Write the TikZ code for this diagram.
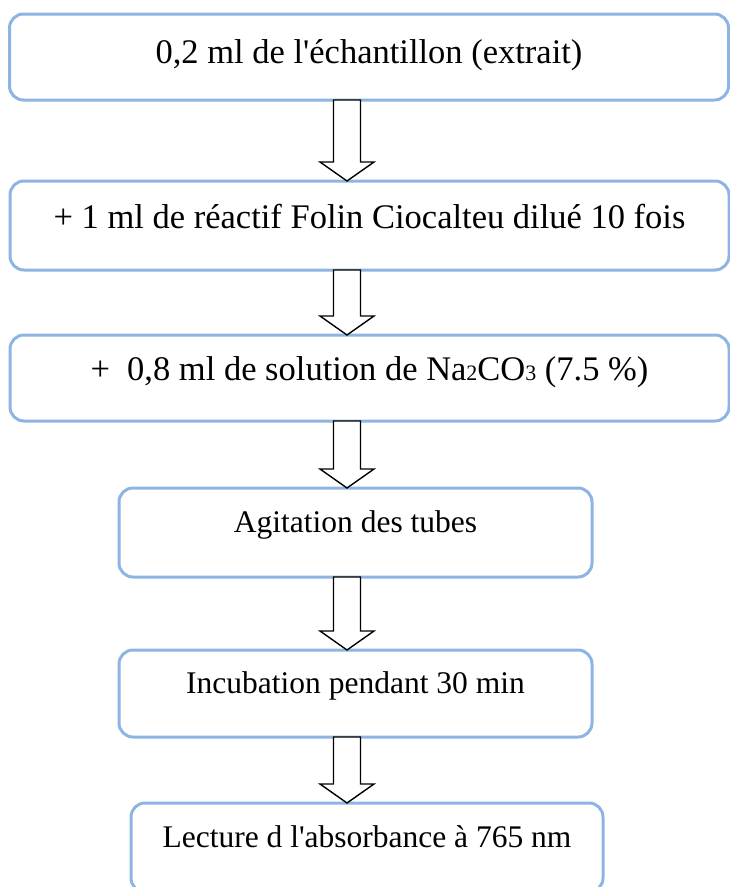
\documentclass[tikz,border=0pt]{standalone}
\usepackage{fontspec}
\setmainfont{Liberation Serif}
\usepackage{tikz}
\usetikzlibrary{calc}

\definecolor{boxblue}{RGB}{141,180,226}

% block arrow from the bottom of one box to the top of the next
\newcommand{\flecheblock}[2]{%
  \draw[fleche] ($(ax |- #1.south)+(-13.5,0)$) -- ($(ax |- #2.north)+(-13.5,-19)$)
    -- ($(ax |- #2.north)+(-27,-19)$) -- (ax |- #2.north)
    -- ($(ax |- #2.north)+(27,-19)$) -- ($(ax |- #2.north)+(13.5,-19)$)
    -- ($(ax |- #1.south)+(13.5,0)$) -- cycle;}

\begin{document}
\begin{tikzpicture}[x=1pt, y=-1pt,
    main/.style = {draw=boxblue, line width=3pt, rounded corners=14pt, anchor=north,
                   inner sep=0pt, outer sep=0pt, font=\fontsize{31.5}{38}\selectfont},
    big/.style = {font=\fontsize{34.5}{41}\selectfont},
    fleche/.style = {draw=black, fill=white, line width=1.4pt, line join=miter}]

    \useasboundingbox (0,0) rectangle (730,887);

    \node [main, big, minimum width=719, text height=49, text depth=37] (0) at (369,14) {0,2 ml de l\textquotesingle échantillon (extrait)};
    \node [main, big, minimum width=719, text height=47, text depth=42] (1) at (369.5,181) {+ 1 ml de réactif Folin Ciocalteu dilué 10 fois};
    \node [main, big, minimum width=719, text height=45, text depth=41] (2) at (369.5,335) {+\ \ 0,8 ml de solution de Na{\fontsize{22}{22}\selectfont 2}CO{\fontsize{22}{22}\selectfont 3} (7.5 \%)};
    \node [main, minimum width=473, text height=44, text depth=45] (3) at (355.5,488) {Agitation des tubes};
    \node [main, minimum width=473, text height=43, text depth=44] (4) at (355.5,650) {Incubation pendant 30 min};
    \node [main, minimum width=472, text height=44, text depth=45] (5) at (367,803) {Lecture d l\textquotesingle absorbance à 765 nm};

    \coordinate (ax) at (347,0);

    \flecheblock{0}{1}
    \flecheblock{1}{2}
    \flecheblock{2}{3}
    \flecheblock{3}{4}
    \flecheblock{4}{5}

\end{tikzpicture}
\end{document}
